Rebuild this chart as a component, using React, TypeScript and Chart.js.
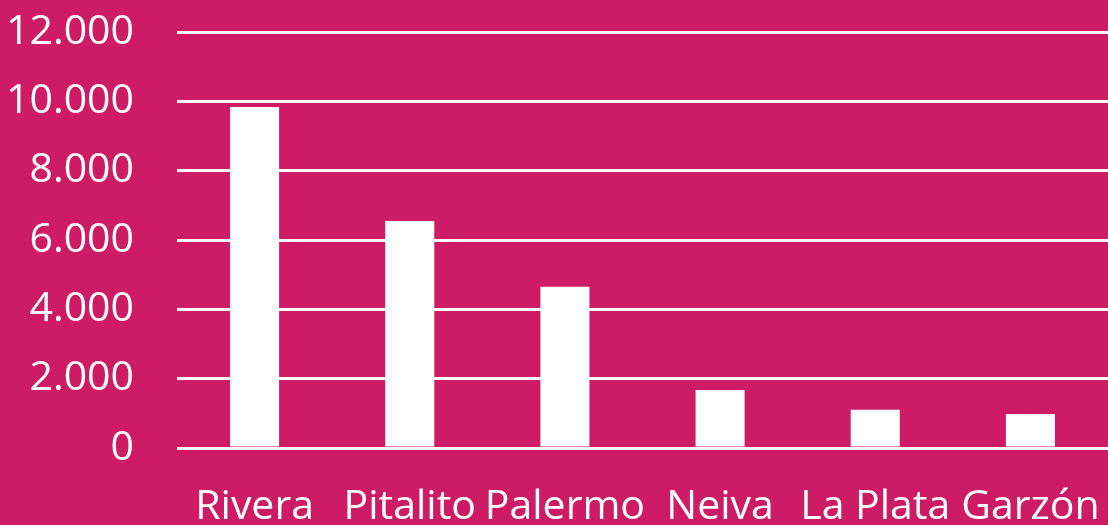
import React, { useEffect, useRef } from "react";
import { Chart, registerables } from "chart.js";

Chart.register(...registerables);

const categories = ["Rivera", "Pitalito", "Palermo", "Neiva", "La Plata", "Garzón"];
const values = [9840, 6550, 4650, 1675, 1100, 980];
const yMin = 0;
const yMax = 12000;
const yStep = 2000;

const BG = "#CD1B66";
const FG = "#FFFFFF";

export default function App() {
  const ref = useRef<HTMLCanvasElement | null>(null);
  useEffect(() => {
    if (!ref.current) return;
    const chart = new Chart(ref.current, {
      type: "bar",
      data: {
        labels: categories,
        datasets: [
          {
            data: values,
            backgroundColor: FG,
            borderWidth: 0,
            categoryPercentage: 1,
            barPercentage: 0.316,
          },
        ],
      },
      options: {
        animation: false,
        responsive: false,
        maintainAspectRatio: false,
        layout: { padding: { top: 32, right: 0, left: 0, bottom: 0 } },
        plugins: { legend: { display: false }, tooltip: { enabled: false } },
        scales: {
          x: {
            grid: { display: false, drawTicks: false },
            border: { display: false },
            ticks: {
              color: FG,
              padding: 35,
              maxRotation: 0,
              autoSkip: false,
              font: { family: "'Open Sans'", size: 41 },
            },
            afterFit: (s: any) => {
              s.height = 77;
              s.paddingLeft = 0;
              s.paddingRight = 0;
            },
          },
          y: {
            min: yMin,
            max: yMax,
            grid: { color: FG, lineWidth: 3, drawTicks: false },
            border: { display: false },
            ticks: {
              stepSize: yStep,
              color: FG,
              padding: 43,
              font: { family: "'Open Sans'", size: 41 },
              callback: (v: any) => Number(v).toLocaleString("de-DE"),
            },
            afterFit: (s: any) => {
              s.width = 177;
              s.paddingTop = 0;
              s.paddingBottom = 0;
            },
          },
        },
      },
    });
    return () => chart.destroy();
  }, []);
  return (
    <div style={{ position: "fixed", left: 0, top: 0, width: 1108, height: 525, background: BG }}>
      <canvas ref={ref} width={1108} height={525} style={{ display: "block", width: 1108, height: 525 }} />
    </div>
  );
}
